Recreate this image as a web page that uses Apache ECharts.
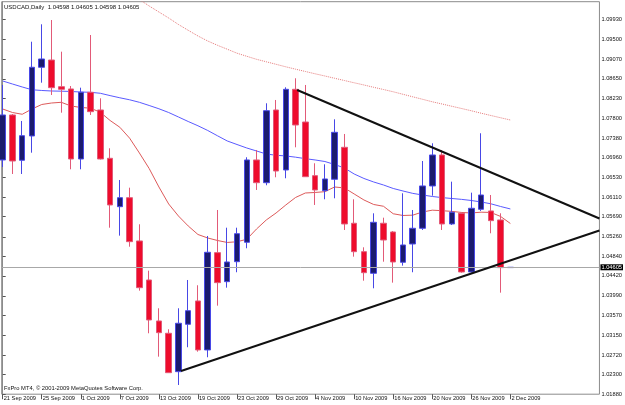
<!DOCTYPE html>
<html>
<head>
<meta charset="utf-8">
<title>USDCAD Daily</title>
<script src="https://cdn.jsdelivr.net/npm/echarts@6/dist/echarts.min.js"></script>
<style>
  html, body { margin: 0; padding: 0; background: #fff; }
  #main { width: 625px; height: 405px; }
</style>
</head>
<body>
<div id="main"></div>
<script>
// daily bars 21 Sep 2009 .. 2 Dec 2009, index 0..52
const opens = [1.06909, 1.07875, 1.06902, 1.07424, 1.08899, 1.09055, 1.08482, 1.08433, 1.06930, 1.08362,
  1.07982, 1.06945, 1.05906, 1.06099, 1.05170, 1.04332, 1.03452, 1.03188, 1.02364, 1.03381,
  1.03882, 1.02830, 1.04919, 1.04296, 1.04725, 1.05142, 1.06909, 1.06421, 1.07982, 1.06694,
  1.08426, 1.07724, 1.06572, 1.06250, 1.06494, 1.07181, 1.05550, 1.04940, 1.04476, 1.05550,
  1.05363, 1.04712, 1.05105, 1.05442, 1.06351, 1.07016, 1.05535, 1.05764, 1.04504, 1.05850,
  1.05814, 1.05621, 1.04598];
const closes = [1.07875, 1.06887, 1.07430, 1.08899, 1.09077, 1.08461, 1.08426, 1.06930, 1.08362, 1.07946,
  1.06930, 1.05943, 1.06099, 1.05155, 1.04167, 1.03474, 1.03201, 1.02342, 1.03403, 1.03673,
  1.02830, 1.04927, 1.04275, 1.04719, 1.05326, 1.06909, 1.06421, 1.07967, 1.06672, 1.08426,
  1.07660, 1.06550, 1.06265, 1.06501, 1.07503, 1.05535, 1.04940, 1.04489, 1.05571, 1.05191,
  1.04719, 1.05084, 1.05442, 1.06351, 1.07016, 1.05535, 1.05786, 1.04504, 1.05872, 1.06157,
  1.05606, 1.04597, 1.04605];
const lows = [1.06758, 1.06608, 1.06608, 1.07065, 1.08568, 1.08304, 1.07924, 1.06709, 1.06709, 1.07875,
  1.06919, 1.05455, 1.05284, 1.05047, 1.04103, 1.03188, 1.02686, 1.02336, 1.02078, 1.02888,
  1.02793, 1.02673, 1.03781, 1.04167, 1.04498, 1.05013, 1.06265, 1.06366, 1.06537, 1.06516,
  1.07181, 1.06544, 1.05943, 1.06065, 1.06086, 1.05406, 1.04833, 1.04317, 1.04154, 1.04725,
  1.04275, 1.04640, 1.04498, 1.05406, 1.06142, 1.05406, 1.05513, 1.04489, 1.04489, 1.05814,
  1.05335, 1.04060, 1.04598];
const highs = [1.08519, 1.07896, 1.07746, 1.09448, 1.09822, 1.09914, 1.09234, 1.08497, 1.08461, 1.09592,
  1.08233, 1.07160, 1.06479, 1.06314, 1.05528, 1.04532, 1.03725, 1.03274, 1.03725, 1.04332,
  1.04219, 1.05277, 1.05835, 1.05455, 1.05455, 1.06967, 1.07123, 1.08126, 1.08197, 1.08469,
  1.08663, 1.08519, 1.06838, 1.06816, 1.07782, 1.07467, 1.06065, 1.05034, 1.05764, 1.05670,
  1.05384, 1.06194, 1.05835, 1.06887, 1.07267, 1.07123, 1.06443, 1.05786, 1.06207, 1.07482,
  1.06157, 1.05764, 1.04605];

// moving averages
const maRed = [1.08003, 1.07928, 1.07890, 1.08003, 1.08100, 1.08132, 1.08147, 1.08068, 1.08036, 1.08021,
  1.07933, 1.07757, 1.07611, 1.07377, 1.07059, 1.06726, 1.06329, 1.05964, 1.05706, 1.05492,
  1.05309, 1.05234, 1.05180, 1.05138, 1.05153, 1.05206, 1.05427, 1.05621, 1.05771, 1.05943,
  1.06104, 1.06200, 1.06211, 1.06228, 1.06329, 1.06308, 1.06179, 1.06050, 1.05953, 1.05915,
  1.05754, 1.05717, 1.05724, 1.05792, 1.05831, 1.05820, 1.05805, 1.05782, 1.05771, 1.05788,
  1.05782, 1.05696, 1.05545];
const maBlue = [1.08605, 1.08540, 1.08476, 1.08416, 1.08401, 1.08390, 1.08386, 1.08379, 1.08368, 1.08362,
  1.08341, 1.08291, 1.08244, 1.08201, 1.08147, 1.08079, 1.08008, 1.07928, 1.07832, 1.07735,
  1.07643, 1.07542, 1.07428, 1.07317, 1.07241, 1.07166, 1.07102, 1.07037, 1.07010, 1.06995,
  1.06969, 1.06937, 1.06909, 1.06876, 1.06812, 1.06737, 1.06608, 1.06512, 1.06436, 1.06372,
  1.06297, 1.06243, 1.06192, 1.06157, 1.06125, 1.06101, 1.06082, 1.06063, 1.06039, 1.06007,
  1.05968, 1.05910, 1.05857];
// slow one is above the top of the chart before bar 14
const maSlow = [null, null, null, null, null, null, null, null, null, null,
  null, null, null, null, 1.10354, 1.10215, 1.10086, 1.09957, 1.09818, 1.09693,
  1.09571, 1.09463, 1.09371, 1.09287, 1.09201, 1.09135, 1.09070, 1.09017, 1.08963, 1.08909,
  1.08858, 1.08809, 1.08759, 1.08712, 1.08663, 1.08615, 1.08566, 1.08519, 1.08469, 1.08422,
  1.08373, 1.08319, 1.08265, 1.08212, 1.08158, 1.08111, 1.08062, 1.08014, 1.07965, 1.07913,
  1.07864, 1.07815, 1.07767];

const dateTicks = [0, 4, 8, 12, 16, 20, 24, 28, 32, 36, 40, 44, 48, 52];
const dateLabels = ['21 Sep 2009', '25 Sep 2009', '1 Oct 2009', '7 Oct 2009', '13 Oct 2009', '19 Oct 2009',
  '23 Oct 2009', '29 Oct 2009', '4 Nov 2009', '10 Nov 2009', '16 Nov 2009', '20 Nov 2009',
  '26 Nov 2009', '2 Dec 2009'];
const priceTicks = [1.0188, 1.0230, 1.0272, 1.0315, 1.0357, 1.0399, 1.0442, 1.0484, 1.0526, 1.0569,
  1.0611, 1.0653, 1.0696, 1.0738, 1.0780, 1.0823, 1.0865, 1.0907, 1.0950, 1.0993];
const bid = 1.04605;

// trend lines as [bar index, price]
const upperTrend = [[30.16, 1.08411], [61.12, 1.05653]];
const lowerTrend = [[18.27, 1.02379], [61.12, 1.05395]];

const font = 'Liberation Sans, Arial, sans-serif';
const chart = echarts.init(document.getElementById('main'));

const candles = opens.map((o, i) => [i, o, closes[i], lows[i], highs[i]]);
const asLine = arr => arr.map((v, i) => [i, v]).filter(d => d[1] !== null);

chart.setOption({
  animation: false,
  backgroundColor: '#fff',
  textStyle: { fontFamily: font },
  grid: {
    left: 1.7, right: 23.3, top: 1.7, bottom: 10.8,
    show: true, borderColor: '#8c8c8c', borderWidth: 1, backgroundColor: '#fff'
  },
  graphic: [
    { type: 'text', left: 4, top: 4,
      style: { text: 'USDCAD,Daily  1.04598 1.04605 1.04598 1.04605', font: '6px ' + font, fill: '#111' } },
    { type: 'text', left: 4, top: 385,
      style: { text: 'FxPro MT4, © 2001-2009 MetaQuotes Software Corp.', font: '5.8px ' + font, fill: '#111' } }
  ],
  xAxis: {
    type: 'value', min: -0.102, max: 61.122,
    splitLine: { show: false },
    axisLine: { show: false },
    axisTick: { show: true, length: 5, customValues: dateTicks, lineStyle: { color: '#555' } },
    axisLabel: {
      customValues: dateTicks, fontSize: 5.7, color: '#111', margin: 1, align: 'left',
      padding: [0, 0, 0, 1],
      formatter: v => dateLabels[dateTicks.indexOf(v)]
    }
  },
  yAxis: {
    type: 'value', position: 'right', min: 1.0188, max: 1.10307,
    splitLine: { show: false },
    axisLine: { show: true, lineStyle: { color: '#8c8c8c' } },
    axisTick: { show: true, length: 3, customValues: priceTicks, lineStyle: { color: '#555' } },
    axisLabel: {
      customValues: priceTicks, fontSize: 5.7, color: '#111', margin: 2,
      formatter: v => v.toFixed(5)
    }
  },
  series: [
    {
      type: 'line', data: [], z: 1,
      markLine: {
        silent: true, symbol: 'none', animation: false, precision: 5,
        lineStyle: { color: '#a8a8a8', width: 1, type: 'solid' },
        label: {
          show: true, position: 'end', distance: 1, formatter: '1.04605',
          color: '#fff', backgroundColor: '#000', fontSize: 5.7, padding: [0, 1, 0, 1]
        },
        data: [{ yAxis: bid }]
      }
    },
    {
      type: 'line', data: asLine(maSlow), z: 2, showSymbol: false,
      lineStyle: { color: '#e47a7a', width: 1, type: 'dotted' }
    },
    {
      type: 'line', data: asLine(maBlue), z: 2, showSymbol: false,
      lineStyle: { color: '#5a5aff', width: 1 }
    },
    {
      type: 'line', data: asLine(maRed), z: 2, showSymbol: false,
      lineStyle: { color: '#dd5a5a', width: 1 }
    },
    {
      type: 'candlestick', data: candles, z: 3,
      encode: { x: 0, y: [1, 2, 3, 4] },
      barWidth: 6,
      itemStyle: {
        color: '#1b1b6e', color0: '#ee0c2c',
        borderColor: '#4848e6', borderColor0: '#e25a78', borderWidth: 1
      }
    },
    {
      type: 'line', data: [], z: 4,
      markLine: {
        silent: true, symbol: 'none', animation: false, precision: 5,
        label: { show: false },
        lineStyle: { color: '#111', width: 2, type: 'solid' },
        data: [
          [{ coord: upperTrend[0] }, { coord: upperTrend[1] }],
          [{ coord: lowerTrend[0] }, { coord: lowerTrend[1] }]
        ]
      }
    }
  ]
});
</script>
</body>
</html>
